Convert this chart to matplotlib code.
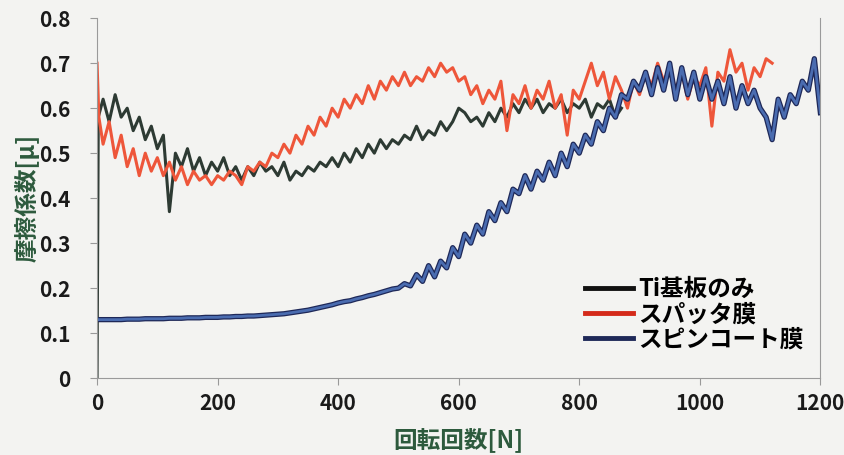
import numpy as np
import matplotlib
matplotlib.use("Agg")
import matplotlib.pyplot as plt

plt.rcParams['font.family'] = ['Noto Sans CJK JP', 'DejaVu Sans']

labels = ['Ti基板のみ', 'スパッタ膜', 'スピンコート膜']

# Ti substrate only
ti_x = [0, 2] + list(range(10, 880, 10))
ti_y = [0.0, 0.58,
        0.62, 0.57, 0.63, 0.58, 0.60, 0.55, 0.58, 0.53, 0.56, 0.51,
        0.54, 0.37, 0.50, 0.47, 0.51, 0.46, 0.49, 0.45, 0.48, 0.46,
        0.49, 0.45, 0.47, 0.44, 0.47, 0.45, 0.48, 0.46, 0.47, 0.45,
        0.48, 0.44, 0.46, 0.45, 0.47, 0.46, 0.48, 0.47, 0.49, 0.47,
        0.50, 0.48, 0.51, 0.49, 0.52, 0.50, 0.53, 0.51, 0.53, 0.52,
        0.54, 0.53, 0.56, 0.53, 0.55, 0.54, 0.57, 0.55, 0.57, 0.60,
        0.59, 0.57, 0.58, 0.56, 0.59, 0.57, 0.60, 0.58, 0.61, 0.59,
        0.62, 0.60, 0.62, 0.59, 0.61, 0.60, 0.62, 0.59, 0.61, 0.60,
        0.62, 0.58, 0.61, 0.60, 0.62, 0.58, 0.60]

# sputtered film
sp_x = [0, 3] + list(range(10, 1130, 10))
sp_y = [0.70, 0.58,
        0.52, 0.57, 0.49, 0.54, 0.47, 0.51, 0.45, 0.50, 0.46, 0.49,
        0.45, 0.48, 0.44, 0.47, 0.43, 0.46, 0.44, 0.45, 0.43, 0.45,
        0.44, 0.46, 0.45, 0.43, 0.47, 0.46, 0.48, 0.47, 0.50, 0.49,
        0.52, 0.50, 0.54, 0.52, 0.56, 0.54, 0.58, 0.56, 0.60, 0.58,
        0.62, 0.60, 0.63, 0.61, 0.65, 0.62, 0.66, 0.64, 0.67, 0.65,
        0.68, 0.65, 0.67, 0.66, 0.69, 0.67, 0.70, 0.68, 0.69, 0.66,
        0.67, 0.63, 0.65, 0.61, 0.64, 0.62, 0.66, 0.55, 0.63, 0.61,
        0.65, 0.60, 0.64, 0.62, 0.66, 0.60, 0.63, 0.54, 0.64, 0.62,
        0.66, 0.70, 0.65, 0.68, 0.62, 0.67, 0.64, 0.60, 0.66, 0.63,
        0.68, 0.65, 0.70, 0.66, 0.69, 0.64, 0.68, 0.62, 0.67, 0.65,
        0.69, 0.56, 0.68, 0.66, 0.73, 0.68, 0.70, 0.64, 0.69, 0.67,
        0.71, 0.70]

# spin-coated film
sc_x = [0] + list(range(10, 1210, 10))
sc_y = [0.13,
        0.130, 0.130, 0.130, 0.130, 0.131, 0.131, 0.131, 0.132, 0.132, 0.132,
        0.132, 0.133, 0.133, 0.133, 0.134, 0.134, 0.134, 0.135, 0.135, 0.135,
        0.136, 0.136, 0.137, 0.137, 0.138, 0.138, 0.139, 0.140, 0.141, 0.142,
        0.143, 0.145, 0.147, 0.149, 0.151, 0.154, 0.157, 0.160, 0.163, 0.167,
        0.170, 0.172, 0.176, 0.179, 0.183, 0.186, 0.190, 0.194, 0.198, 0.200,
        0.210, 0.205, 0.230, 0.215, 0.250, 0.225, 0.260, 0.245, 0.290, 0.270,
        0.32, 0.30, 0.34, 0.32, 0.37, 0.35, 0.39, 0.37, 0.42, 0.41,
        0.45, 0.42, 0.46, 0.44, 0.48, 0.45, 0.50, 0.47, 0.52, 0.50,
        0.54, 0.52, 0.57, 0.55, 0.60, 0.58, 0.63, 0.62, 0.66, 0.64,
        0.68, 0.63, 0.69, 0.64, 0.70, 0.62, 0.69, 0.63, 0.68, 0.62,
        0.67, 0.62, 0.66, 0.61, 0.67, 0.60, 0.65, 0.61, 0.64, 0.60,
        0.58, 0.53, 0.62, 0.58, 0.63, 0.61, 0.66, 0.64, 0.71, 0.59]

xticks = [0, 200, 400, 600, 800, 1000, 1200]
yticks = [0, 0.1, 0.2, 0.3, 0.4, 0.5, 0.6, 0.7, 0.8]
ytick_labels = ['0', '0.1', '0.2', '0.3', '0.4', '0.5', '0.6', '0.7', '0.8']

bg = '#f3f3f1'
fig = plt.figure(figsize=(8.44, 4.55), dpi=100, facecolor=bg)
ax = fig.add_axes([0.115, 0.169, 0.857, 0.791], facecolor=bg)

ax.plot(ti_x, ti_y, color='#2d3a33', lw=2.2)
ax.plot(sp_x, sp_y, color='#ee563a', lw=2.2)
ax.plot(sc_x, sc_y, color='#1e2858', lw=3.8)
ax.plot(sc_x, sc_y, color='#4a6cb0', lw=2.0)

ax.set_xlim(0, 1200)
ax.set_ylim(0, 0.8)
ax.set_xticks(xticks)
ax.set_yticks(yticks)
ax.set_yticklabels(ytick_labels)
for lab in ax.get_xticklabels() + ax.get_yticklabels():
    lab.set_fontweight('bold')
    lab.set_fontsize(15)
    lab.set_color('#1a1a1a')
ax.tick_params(direction='out', length=5, color='#999999')
ax.tick_params(axis='y', pad=14)
ax.tick_params(axis='x', pad=6)

for s in ['left', 'bottom', 'right']:
    ax.spines[s].set_color('#9a9a9a')
ax.spines['top'].set_visible(False)

ax.set_xlabel('回転回数[N]', fontsize=17, fontweight='bold', color='#2d5a3d')
ax.set_ylabel('摩擦係数[μ]', fontsize=17, fontweight='bold', color='#2d5a3d')
ax.xaxis.set_label_coords(0.5, -0.135)
ax.yaxis.set_label_coords(-0.08, 0.5)

handles = [plt.Line2D([], [], color='#111111', lw=3.5),
           plt.Line2D([], [], color='#d42a1a', lw=3.5),
           plt.Line2D([], [], color='#1e2858', lw=3.5)]
leg = ax.legend(handles, labels, loc='upper left', bbox_to_anchor=(0.675, 0.281),
                prop={'size': 17, 'weight': 'bold'}, frameon=False,
                handlelength=2.0, handletextpad=0.25, labelspacing=0.05,
                borderpad=0, borderaxespad=0)

fig.savefig('out.png', dpi=100, facecolor=bg)
